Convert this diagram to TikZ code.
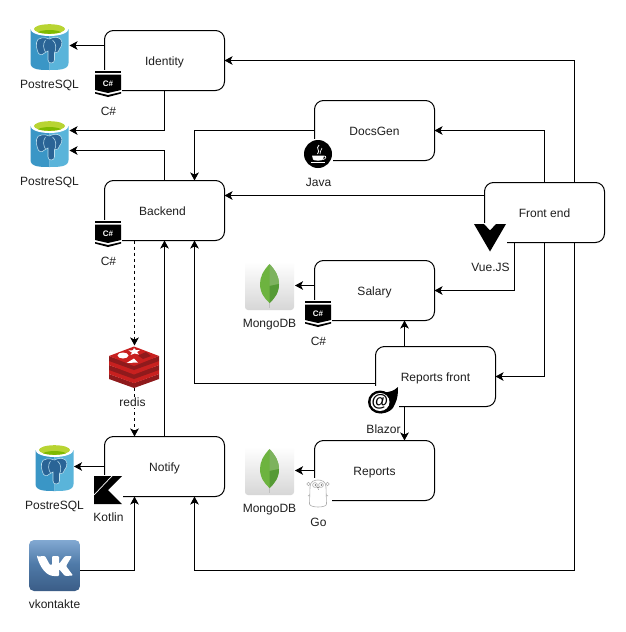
\documentclass[tikz,border=0pt]{standalone}
\usepackage{fontspec}
\setmainfont{Liberation Sans}
\usetikzlibrary{arrows.meta}
\definecolor{txt}{HTML}{1E1E1E}
\definecolor{pgL}{HTML}{3A96C6}
\definecolor{pgR}{HTML}{5AB4DA}
\definecolor{pgRim}{HTML}{B8D432}
\definecolor{pgIn}{HTML}{7FBA00}
\definecolor{pgEl}{HTML}{2A6496}
\definecolor{rdA}{HTML}{C8201F}
\definecolor{rdB}{HTML}{8F1A1C}
\definecolor{lfA}{HTML}{6DB33F}
\definecolor{lfB}{HTML}{559A35}
\definecolor{lfC}{HTML}{7DB25E}
\definecolor{vkA}{HTML}{82A9D2}
\definecolor{vkB}{HTML}{4F7AA8}
\definecolor{vkC}{HTML}{3B5D87}
\tikzset{
  x=1pt,y=-1pt,
  every node/.style={font=\fontsize{12}{14}\selectfont,text=txt,inner sep=0pt,outer sep=0pt},
  svcbox/.style={draw,line width=1pt,rounded corners=9pt,minimum width=120pt,minimum height=60pt,fill=white,text height=10pt,text depth=1pt},
  lbl/.style={text height=10pt,text depth=1pt},
  flow/.style={line width=1pt,-{Stealth[length=8pt,width=8.5pt,inset=2pt]}},
  dashflow/.style={flow,dash pattern=on 3pt off 3pt},
  pics/pgicon/.style={code={
    \fill[pgL] (0,7) -- (0,41) .. controls (0,48) and (10,48) .. (19,48) -- (19,7) -- cycle;
    \fill[pgR] (38,7) -- (38,41) .. controls (38,48) and (28,48) .. (19,48) -- (19,7) -- cycle;
    \fill[white] (19,7) ellipse [x radius=19pt,y radius=7pt];
    \fill[pgRim] (19,7) ellipse [x radius=15.5pt,y radius=4.8pt];
    \begin{scope}
      \clip (19,7) ellipse [x radius=15.5pt,y radius=4.8pt];
      \fill[pgIn] (19,12) ellipse [x radius=13pt,y radius=4pt];
    \end{scope}
    \begin{scope}[fill=pgEl,draw=white!60!pgR,line width=.55pt]
      \filldraw (11,16) .. controls (5,16) and (5,24) .. (7,29) .. controls (8,33) and (11,34) .. (14,31) -- (17.5,29) -- (17.5,38) .. controls (17.5,42) and (24,42) .. (24,38) -- (24,31) .. controls (27,31) and (29,29) .. (29,27) .. controls (33,23) and (32,16) .. (27,15.5) .. controls (23,15) and (21,16) .. (19,17) .. controls (16,15.5) and (13,15.5) .. (11,16) -- cycle;
      \draw (15,18) .. controls (12,22) and (13,27) .. (15,30);
      \draw (22,18) .. controls (26,21) and (26,27) .. (24,31);
    \end{scope}
  }},
  pics/csicon/.style={code={
    \fill[white] (-1,-1) rectangle (27,27);
    \fill[black] (0,0) rectangle (26,2.2);
    \fill[black] (0,3.6) -- (26,3.6) -- (26,19) -- (13,22) -- (0,19) -- cycle;
    \fill[black] (0,21) -- (13,24) -- (26,21) -- (26,22.6) -- (13,26) -- (0,22.6) -- cycle;
    \node[text=white,font=\fontsize{8}{8}\selectfont\bfseries] (csmark) at (13,12.3) {C\#};
  }},
  pics/javaicon/.style={code={
    \fill[white] (-1,-1) rectangle (29,29);
    \fill[black] (14,14) circle [radius=14pt];
    \draw[white,line width=.8pt] (15,5) .. controls (11,9) and (17,10) .. (13.5,14);
    \draw[white,line width=.6pt] (18,8) .. controls (15,10) and (18,12) .. (16,14);
    \fill[white] (8,15.5) -- (20,15.5) -- (19,19.5) .. controls (18,21) and (10,21) .. (9,19.5) -- cycle;
    \draw[white,line width=.7pt] (20,16) .. controls (23,16) and (22,19) .. (19,19.5);
    \draw[white,line width=.8pt] (7,22.5) -- (21,22.5);
  }},
  pics/vueicon/.style={code={
    \fill[white] (-1,-1) rectangle (33,29);
    \fill[black] (0,0) -- (10,0) -- (16,6.5) -- (22,0) -- (32,0) -- (16,27.5) -- cycle;
  }},
  pics/mongoicon/.style={code={
    \shade[top color=white,middle color=white!96!black,bottom color=white!84!black,rounded corners=3pt] (0,0) rectangle (49,48);
    \fill[black!25] (24,35) rectangle (25,46);
    \fill[lfA] (24.5,2) .. controls (18,9) and (15,15) .. (15,22) .. controls (15,31) and (20,37) .. (24.5,41) .. controls (29,37) and (34,31) .. (34,22) .. controls (34,15) and (31,9) .. (24.5,2) -- cycle;
    \fill[lfC] (24.5,2) .. controls (31,9) and (34,15) .. (34,22) -- (24.5,24) -- cycle;
    \fill[lfB] (24.5,41) .. controls (29,37) and (34,31) .. (34,22) -- (24.5,24) -- cycle;
  }},
  pics/blazoricon/.style={code={
    \fill[white] (-1,-1) rectangle (31,28);
    \fill[black] (13,4) .. controls (18,6) and (21,5) .. (24,4) .. controls (26,3) and (28,2) .. (30,0) .. controls (30,5) and (30,11) .. (27,17) .. controls (25,23) and (20,26) .. (13,26.5) -- cycle;
    \fill[black] (12,15) ellipse [x radius=12pt,y radius=11.5pt];
    \fill[white] (12,15) ellipse [x radius=9.5pt,y radius=9pt];
    \node[text=black,font=\fontsize{17}{17}\selectfont\bfseries] (blzmark) at (12,14.6) {@};
  }},
  pics/goicon/.style={code={
    \fill[white] (-2,-2) rectangle (25,28);
    \begin{scope}[draw=black!32,line width=.6pt]
      \draw[fill=white] (1.5,4) circle [radius=1.8pt];
      \draw[fill=white] (20.5,4) circle [radius=1.8pt];
      \draw[fill=white] (3,7) .. controls (3,1) and (8,0) .. (11,0) .. controls (14,0) and (19,1) .. (19,7) -- (19.5,24) .. controls (19.5,28) and (3,28) .. (2.5,24) -- cycle;
      \draw (2.7,15) -- (1,16); \draw (19.3,15) -- (21,16);
      \draw[fill=white] (8,5) circle [radius=2.4pt];
      \draw[fill=white] (14,5) circle [radius=2.4pt];
    \end{scope}
    \fill[black!55] (8.5,5) circle [radius=.8pt];
    \fill[black!55] (14.5,5) circle [radius=.8pt];
    \fill[black!45] (11,7.5) ellipse [x radius=1.5pt,y radius=.9pt];
    \draw[black!30,line width=.5pt] (11,8.5) -- (11,10);
  }},
  pics/kotlinicon/.style={code={
    \fill[white] (-1,-1) rectangle (29,29);
    \fill[black] (0,0) -- (28,0) -- (14,14) -- (28,28) -- (0,28) -- cycle;
    \draw[white,line width=.7pt] (0,19) -- (18,0);
  }},
  pics/redisicon/.style={code={
    \fill[white] (0,0) rectangle (50,42);
    \fill[rdB] (0,28) -- (25,37) -- (50,28) -- (50,33) -- (25,42) -- (0,33) -- cycle;
    \fill[rdA] (0,24) -- (25,15) -- (50,24) -- (50,28) -- (25,37.2) -- (0,28) -- cycle;
    \fill[rdB] (0,19) -- (25,28) -- (50,19) -- (50,24) -- (25,33) -- (0,24) -- cycle;
    \fill[rdA] (0,15) -- (25,6) -- (50,15) -- (50,19) -- (25,28.5) -- (0,19) -- cycle;
    \fill[rdB] (0,10) -- (25,19) -- (50,10) -- (50,15) -- (25,24) -- (0,15) -- cycle;
    \fill[rdA] (0,10) -- (25,0.5) -- (50,10) -- (25,20) -- cycle;
    \fill[white] (14,9.5) ellipse [x radius=5.5pt,y radius=3pt];
    \fill[white] (25,2) -- (27,4) -- (31,4) -- (28,6) -- (30,8.5) -- (25.5,7.5) -- (21.5,9) -- (23,6.5) -- (19.5,4.5) -- (24,4.2) -- cycle;
    \fill[white] (17.5,17) -- (25,12.5) -- (29,16.5) -- cycle;
    \fill[rdB] (29,9.5) -- (37,6) -- (42,10) -- (34,13) -- cycle;
  }},
  pics/vkicon/.style={code={
    \begin{scope}
      \clip[rounded corners=5pt] (0,0) rectangle (51,51);
      \shade[top color=vkA,bottom color=vkB] (0,0) rectangle (51,24);
      \shade[top color=vkB,bottom color=vkC] (0,24) rectangle (51,51);
    \end{scope}
    \fill[white,rounded corners=1pt] (8,16.5) -- (16,16) -- (21,25) -- (23,25) -- (23,16) -- (30,16) -- (30,24) -- (36,16) -- (43,16) -- (37,26) -- (44,35.5) -- (36,36) -- (30,29) -- (30,36) -- (26,36) .. controls (17,36) and (11,27) .. cycle;
  }},
}
\begin{document}
\begin{tikzpicture}
\useasboundingbox (0,0) rectangle (625,632);
\fill[white] (0,0) rectangle (625,632);
% services
\node[svcbox] (identity) at (164.5,60.5) {Identity};
\node[svcbox] (backend) at (164.5,210.5) {\kern-4pt Backend};
\node[svcbox] (docsgen) at (374.5,130.5) {DocsGen};
\node[svcbox] (frontend) at (544.5,212.5) {Front end};
\node[svcbox] (salary) at (374.5,290.5) {Salary};
\node[svcbox] (repfront) at (435.5,376.5) {Reports front};
\node[svcbox] (reports) at (374.5,470.5) {Reports};
\node[svcbox] (notify) at (164.5,466.5) {Notify};
% icon anchors
\node[minimum width=38pt,minimum height=48pt] (pgA) at (49.5,46) {};
\node[minimum width=38pt,minimum height=48pt] (pgB) at (49.5,143) {};
\node[minimum width=38pt,minimum height=48pt] (pgC) at (54.5,467) {};
\node[minimum width=50pt,minimum height=42pt] (redis) at (134,367) {};
\node[minimum width=51pt,minimum height=51pt] (vk) at (54.5,565.5) {};
\node[minimum width=49pt,minimum height=48pt] (mongoA) at (269.5,286) {};
\node[minimum width=49pt,minimum height=48pt] (mongoB) at (269.5,471) {};
% connector anchors
\coordinate (idPg) at (104.5,45.5);
\coordinate (pgAin) at (69.5,45.5);
\coordinate (pgBup) at (69.5,130.5);
\coordinate (pgBlo) at (69.5,150.5);
\coordinate (feTopR) at (574.5,182.5);
\coordinate (feBotR) at (574.5,242.5);
\coordinate (feBotL) at (514.5,242.5);
\coordinate (feWest) at (484.5,195.5);
\coordinate (beEast) at (224.5,195.5);
\coordinate (beTopR) at (194.5,180.5);
\coordinate (beBotR) at (194.5,240.5);
\coordinate (beBotL) at (134.5,240.5);
\coordinate (rfWest) at (375.5,383.5);
\coordinate (rfTop) at (404.5,346.5);
\coordinate (salBot) at (404.5,320.5);
\coordinate (rfBot) at (404.5,406.5);
\coordinate (repTop) at (404.5,440.5);
\coordinate (salWest) at (314.5,285.5);
\coordinate (moAin) at (295,285.5);
\coordinate (moBin) at (295,470.5);
\coordinate (ntBotL) at (134.5,496.5);
\coordinate (ntBotR) at (194.5,496.5);
\coordinate (ntTopL) at (134.5,436.5);
\coordinate (pgCin) at (74,466.5);
\coordinate (vkE) at (80,570.5);
\coordinate (bottomRun) at (574.5,570.5);
\coordinate (redisIn) at (134.5,345.5);
\coordinate (redisOut) at (134.5,388);
% connectors
\draw[flow] (idPg) -- (pgAin);
\draw[flow] (identity.south) |- (pgBup);
\draw[flow] (backend.north) |- (pgBlo);
\draw[flow] (feTopR) |- (identity.east);
\draw[flow] (frontend.north) |- (docsgen.east);
\draw[flow] (docsgen.west) -| (beTopR);
\draw[flow] (feWest) -- (beEast);
\draw[flow] (feBotL) |- (salary.east);
\draw[flow] (frontend.south) |- (repfront.east);
\draw[flow] (feBotR) -- (bottomRun) -| (ntBotR);
\draw[flow] (salWest) -- (moAin);
\draw[flow] (rfTop) -- (salBot);
\draw[flow] (rfBot) -- (repTop);
\draw[flow] (rfWest) -| (beBotR);
\draw[flow] (reports.west) -- (moBin);
\draw[flow] (notify.north) -- (backend.south);
\draw[flow] (notify.west) -- (pgCin);
\draw[flow] (vkE) -| (ntBotL);
\draw[dashflow] (beBotL) -- (redisIn);
\draw[dashflow] (redisOut) -- (ntTopL);
% icons
\pic at (30.5,22) {pgicon};
\pic at (30.5,119) {pgicon};
\pic at (35.5,443) {pgicon};
\pic at (95,71) {csicon};
\pic at (95,221) {csicon};
\pic at (305,301) {csicon};
\pic at (304,140) {javaicon};
\pic at (474,224) {vueicon};
\pic at (245,262) {mongoicon};
\pic at (245,447) {mongoicon};
\pic at (368,387) {blazoricon};
\pic at (307,480) {goicon};
\pic at (94,476) {kotlinicon};
\pic at (109,346) {redisicon};
\pic at (29,540) {vkicon};
% labels
\node[lbl] (lA) at (49.5,84) {PostreSQL};
\node[lbl] (lB) at (49.5,181) {PostreSQL};
\node[lbl] (lC) at (54.5,505) {PostreSQL};
\node[lbl] (lD) at (108.5,111) {C\#};
\node[lbl] (lE) at (108.5,261) {C\#};
\node[lbl] (lF) at (318.5,341) {C\#};
\node[lbl] (lG) at (318.5,182) {Java};
\node[lbl] (lH) at (490.5,267) {Vue.JS};
\node[lbl] (lI) at (269.5,323) {MongoDB};
\node[lbl] (lJ) at (269.5,508) {MongoDB};
\node[lbl] (lK) at (383.5,429) {Blazor};
\node[lbl] (lL) at (318.5,522) {Go};
\node[lbl] (lM) at (108.5,517) {Kotlin};
\node[lbl,fill=white] (lN) at (132.5,402) {redis};
\node[lbl] (lO) at (54.5,604) {vkontakte};
\end{tikzpicture}
\end{document}
